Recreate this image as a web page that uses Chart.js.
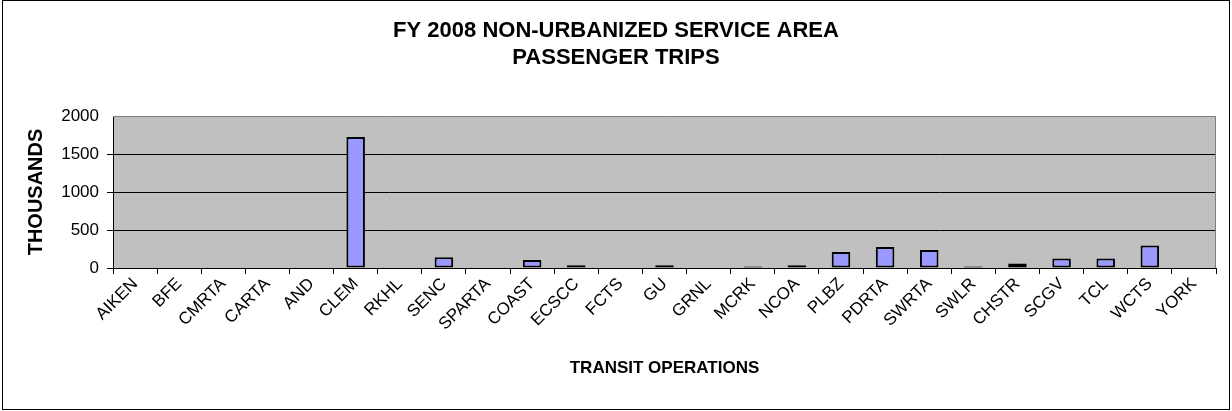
<!DOCTYPE html>
<html>
<head>
<meta charset="utf-8">
<script src="https://cdn.jsdelivr.net/npm/chart.js@4/dist/chart.umd.min.js"></script>
<style>
  html, body { margin: 0; padding: 0; background: #ffffff; }
  #wrap { width: 1232px; height: 411px; position: relative; }
</style>
</head>
<body>
<div id="wrap"><canvas id="c" width="1232" height="411"></canvas></div>
<script>
const titleLines = ['FY 2008 NON-URBANIZED SERVICE AREA', 'PASSENGER TRIPS'];
const xTitle = 'TRANSIT OPERATIONS';
const yTitle = 'THOUSANDS';
const categories = ['AIKEN','BFE','CMRTA','CARTA','AND','CLEM','RKHL','SENC','SPARTA','COAST','ECSCC','FCTS','GU','GRNL','MCRK','NCOA','PLBZ','PDRTA','SWRTA','SWLR','CHSTR','SCGV','TCL','WCTS','YORK'];
const trips = [0,0,0,0,0,1725,0,143,0,104,37,0,37,0,20,37,210,276,236,20,60,126,126,295,0];
const yMin = 0, yMax = 2000, yStep = 500;

const FONT = "'Liberation Sans', Arial, sans-serif";

const frame = {
  id: 'frame',
  beforeDraw(chart) {
    const { ctx, chartArea: a } = chart;
    ctx.save();
    ctx.fillStyle = '#ffffff';
    ctx.fillRect(0, 0, chart.width, chart.height);
    ctx.fillStyle = '#c0c0c0';
    ctx.fillRect(a.left, a.top, a.right - a.left, a.bottom - a.top);
    ctx.restore();
  },
  afterDraw(chart) {
    const { ctx, chartArea: a } = chart;
    ctx.save();
    ctx.strokeStyle = '#808080';
    ctx.lineWidth = 1;
    ctx.beginPath();
    ctx.moveTo(a.left, a.top + 0.5);
    ctx.lineTo(a.right - 0.5, a.top + 0.5);
    ctx.lineTo(a.right - 0.5, a.bottom);
    ctx.stroke();
    ctx.strokeStyle = '#000000';
    ctx.strokeRect(2.5, 0.5, 1227, 409);
    ctx.restore();
  }
};

new Chart(document.getElementById('c'), {
  type: 'bar',
  data: {
    labels: categories,
    datasets: [{
      data: trips,
      backgroundColor: '#9999ff',
      borderColor: '#000000',
      borderWidth: 2,
      borderSkipped: false,
      categoryPercentage: 1,
      barPercentage: 0.42
    }]
  },
  plugins: [frame],
  options: {
    responsive: false,
    animation: false,
    devicePixelRatio: 1,
    layout: { padding: { left: 16, right: 16, top: 0, bottom: 0 } },
    plugins: {
      legend: { display: false },
      tooltip: { enabled: false },
      title: {
        display: true,
        text: titleLines,
        color: '#000000',
        font: { family: FONT, size: 22, weight: 'bold', lineHeight: 1.25 },
        padding: { top: 17, bottom: 44 }
      }
    },
    scales: {
      x: {
        grid: { drawOnChartArea: false, drawTicks: true, tickLength: 6, color: '#000000', offset: true },
        border: { display: true, color: '#000000', width: 1 },
        ticks: {
          color: '#000000',
          font: { family: FONT, size: 17 },
          minRotation: 45, maxRotation: 45,
          autoSkip: false,
          padding: 0
        },
        title: {
          display: true,
          text: xTitle,
          color: '#000000',
          font: { family: FONT, size: 17, weight: 'bold', lineHeight: 1.2 },
          padding: { top: 0, bottom: 32 }
        },
        afterFit(scale) { scale.height = 143; }
      },
      y: {
        min: yMin, max: yMax,
        grid: {
          drawTicks: true, tickLength: 6,
          color: (c) => (c.tick && c.tick.value === yMax) ? 'rgba(0,0,0,0)' : '#000000'
        },
        border: { display: true, color: '#000000', width: 1 },
        ticks: {
          stepSize: yStep,
          color: '#000000',
          font: { family: FONT, size: 17 },
          padding: 8,
          callback: (v) => String(v)
        },
        title: {
          display: true,
          text: yTitle,
          color: '#000000',
          font: { family: FONT, size: 20, weight: 'bold', lineHeight: 1.2 },
          padding: { top: 8, bottom: 0 }
        },
        afterFit(scale) { scale.width = 97; }
      }
    }
  }
});
</script>
</body>
</html>
